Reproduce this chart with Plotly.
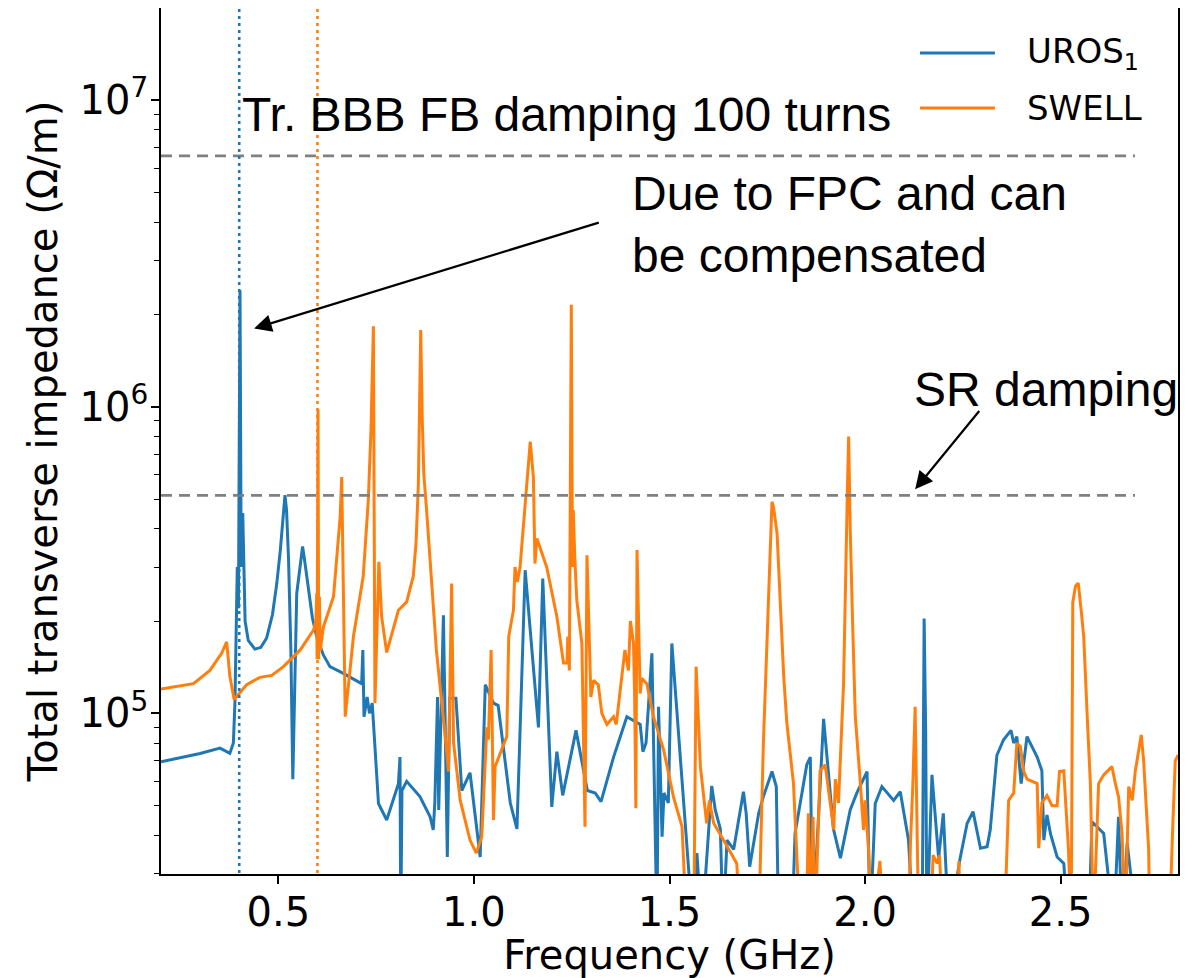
import math
import plotly.graph_objects as go

# ---------------- data ----------------
uros_freq = [0.200, 0.300, 0.351, 0.376, 0.385, 0.389, 0.395, 0.398, 0.402, 0.405,
             0.409, 0.412, 0.415, 0.423, 0.440, 0.455, 0.470, 0.485, 0.496, 0.505,
             0.512, 0.517, 0.521, 0.526, 0.532, 0.537, 0.547, 0.562, 0.568, 0.577,
             0.587, 0.598, 0.615, 0.632, 0.666, 0.713, 0.716, 0.719,
             0.727, 0.733, 0.740, 0.756, 0.777, 0.807, 0.811, 0.813, 0.816, 0.828,
             0.862, 0.888, 0.896, 0.900, 0.907, 0.910, 0.922, 0.932, 0.938, 0.954,
             0.969, 0.990, 1.016, 1.029, 1.050, 1.062, 1.093, 1.110, 1.131, 1.165,
             1.176, 1.199, 1.212, 1.227, 1.261, 1.290, 1.310, 1.325, 1.357, 1.391,
             1.425, 1.432, 1.440, 1.455, 1.468, 1.472, 1.481, 1.486, 1.497, 1.506,
             1.532, 1.560, 1.570, 1.583, 1.608, 1.617, 1.630, 1.637, 1.647, 1.664,
             1.689, 1.696, 1.705, 1.728, 1.740, 1.762, 1.773, 1.779, 1.813, 1.821,
             1.851, 1.860, 1.866, 1.894, 1.919, 1.937, 1.962, 1.979, 2.005, 2.013,
             2.026, 2.043, 2.073, 2.090, 2.111, 2.124, 2.146, 2.151, 2.155, 2.158,
             2.171, 2.188, 2.200, 2.214, 2.243, 2.261, 2.276, 2.295, 2.312, 2.320,
             2.337, 2.354, 2.373, 2.380, 2.388, 2.399, 2.414, 2.440, 2.452, 2.457,
             2.465, 2.474, 2.491, 2.508, 2.520, 2.572, 2.580, 2.610, 2.636, 2.648,
             2.657, 2.670, 2.695, 2.800]
uros_imp = [6.95e4, 7.4e4, 7.7e4, 7.4e4, 8.0e4, 1.08e5, 3.0e5, 2.2e5, 2.4e6, 3.0e5,
            4.5e5, 2.65e5, 2.0e5, 1.73e5, 1.62e5, 1.64e5, 1.76e5, 2.1e5, 2.65e5, 3.4e5,
            4.5e5, 5.15e5, 4.6e5, 3.2e5, 1.61e5, 6.1e4, 2.46e5, 3.5e5, 3.1e5, 2.5e5,
            2.05e5, 1.78e5, 1.55e5, 1.42e5, 1.35e5, 1.25e5, 1.61e5, 9.75e4,
            1.13e5, 1.0e5, 1.08e5, 5.08e4, 4.49e4, 5.9e4, 7.2e4, 2.0e4, 5.6e4, 6.0e4,
            5.35e4, 4.6e4, 4.17e4, 5.1e4, 1.13e5, 4.84e4, 2.09e5, 3.4e4, 1.12e5, 1.12e5,
            5.6e4, 6.4e4, 3.4e4, 1.24e5, 1.08e5, 1.06e5, 5.1e4, 4.2e4, 2.93e5, 9.0e4,
            2.75e5, 4.95e4, 7.5e4, 5.4e4, 8.8e4, 5.6e4, 5.5e4, 5.15e4, 7.2e4, 9.75e4,
            9.2e4, 7.5e4, 8.0e4, 1.57e5, 2.0e4, 1.05e5, 3.96e4, 5.5e4, 5.1e4, 1.69e5,
            5.9e4, 2.0e4, 3.5e4, 2.0e4, 5.8e4, 4.84e4, 4.2e4, 2.0e4, 3.86e4, 3.6e4,
            5.55e4, 4.72e4, 3.16e4, 4.72e4, 5.35e4, 6.46e4, 5.77e4, 2.0e4, 2.0e4, 4.06e4,
            6.8e4, 7.2e4, 2.0e4, 9.6e4, 4.2e4, 3.37e4, 4.84e4, 5.5e4, 6.46e4, 2.0e4,
            5.08e4, 5.77e4, 5.2e4, 5.55e4, 3.86e4, 2.0e4, 2.0e4, 2.04e5, 8.6e4, 2.0e4,
            6.3e4, 3.37e4, 4.72e4, 2.0e4, 3.37e4, 4.38e4, 4.78e4, 3.63e4, 3.67e4, 4.17e4,
            7.3e4, 8.2e4, 8.8e4, 8.0e4, 8.4e4, 5.9e4, 8.4e4, 7.2e4, 6.5e4, 3.86e4,
            4.66e4, 4.05e4, 3.4e4, 3.24e4, 2.0e4, 2.0e4, 4.43e4, 4.06e4, 2.0e4, 4.6e4,
            2.0e4, 3.77e4, 2.0e4, 2.0e4]

swell_freq = [0.200, 0.283, 0.325, 0.355, 0.368, 0.376, 0.387, 0.419, 0.453, 0.483,
              0.513, 0.556, 0.590, 0.596, 0.598, 0.599, 0.6015, 0.603, 0.605, 0.607,
              0.615, 0.641, 0.658, 0.662, 0.671, 0.692, 0.717, 0.730, 0.737, 0.743, 0.747,
              0.757, 0.764, 0.777, 0.807, 0.828, 0.845, 0.852, 0.858, 0.861, 0.864, 0.868,
              0.872, 0.879, 0.904,
              0.930, 0.935, 0.943, 0.948, 0.965, 0.990, 1.006, 1.020, 1.033, 1.037,
              1.044, 1.050, 1.054, 1.084, 1.089, 1.101, 1.105, 1.111, 1.118, 1.135,
              1.144, 1.152, 1.156, 1.161, 1.186, 1.212, 1.229, 1.238, 1.240, 1.244,
              1.246, 1.249, 1.252, 1.254, 1.258, 1.263, 1.276, 1.284, 1.289, 1.297,
              1.299, 1.306, 1.318, 1.327, 1.340, 1.357, 1.364, 1.374, 1.386, 1.395,
              1.400, 1.408, 1.411, 1.414, 1.417, 1.425, 1.429, 1.442, 1.459, 1.485,
              1.510, 1.532, 1.544, 1.562, 1.568, 1.579, 1.595, 1.602, 1.613, 1.638,
              1.659, 1.672, 1.681, 1.728, 1.740, 1.752, 1.757, 1.762, 1.766, 1.775, 1.792,
              1.800, 1.817,
              1.834, 1.850, 1.855, 1.860, 1.867, 1.872, 1.885, 1.898, 1.911, 1.920,
              1.924, 1.932, 1.945, 1.950, 1.955, 1.958, 1.962, 1.968, 1.975, 1.988,
              1.996, 2.000, 2.009, 2.018,
              2.038, 2.047, 2.111, 2.116, 2.122, 2.128, 2.137, 2.167, 2.174, 2.184,
              2.190, 2.200, 2.235, 2.240, 2.243, 2.356, 2.367, 2.380, 2.388, 2.397,
              2.405, 2.414, 2.427, 2.440, 2.444, 2.452, 2.465, 2.478, 2.491, 2.497,
              2.508, 2.520, 2.527, 2.531, 2.538, 2.545, 2.552, 2.559, 2.568, 2.576,
              2.584, 2.597,
              2.610, 2.631, 2.640, 2.648, 2.657, 2.665, 2.674, 2.683, 2.691, 2.706,
              2.712, 2.725, 2.728, 2.778, 2.786, 2.793, 2.800]
swell_imp = [1.2e5, 1.25e5, 1.38e5, 1.57e5, 1.71e5, 1.32e5, 1.11e5, 1.24e5, 1.31e5, 1.33e5,
             1.42e5, 1.61e5, 1.87e5, 2.0e5, 2.46e5, 1.5e5, 9.8e5, 1.5e5, 2.4e5, 1.6e5,
             1.91e5, 2.4e5, 4.37e5, 5.9e5, 9.75e4, 1.78e5, 2.8e5, 4.96e5, 8.5e5, 1.83e6, 1.08e5,
             3.12e5, 2.07e5, 1.58e5, 2.17e5, 2.31e5, 2.8e5, 3.6e5, 5.6e5, 9.0e5, 1.78e6, 9.0e5,
             6.0e5, 4.6e5, 1.61e5,
             7.6e4, 6.46e4, 2.65e5, 8.0e4, 5.2e4, 3.86e4, 3.5e4, 3.96e4, 9.0e4, 8.2e4,
             1.61e5, 4.49e4, 6.7e4, 8.4e4, 1.78e5, 2.17e5, 3.0e5, 2.68e5, 3.0e5, 5.5e5,
             7.7e5, 5.9e5, 3.08e5, 3.72e5, 3.0e5, 2.07e5, 1.46e5, 1.46e5, 1.78e5, 1.38e5,
             3.4e5, 2.15e6, 3.0e5, 4.6e5, 3.2e5, 2.34e5, 1.69e5, 4.27e4, 3.28e5, 1.38e5,
             1.13e5, 1.28e5, 1.24e5, 1.0e5, 9.2e4, 9.75e4, 9.2e4, 1.19e5, 1.61e5, 1.38e5,
             2.0e5, 1.69e5, 1.1e5, 4.9e4, 3.41e5, 1.16e5, 1.3e5, 1.25e5, 9.75e4, 7.6e4,
             5.35e4, 4.27e4, 2.0e4, 2.0e4, 1.42e5, 6.7e4, 4.38e4, 5.2e4, 4.38e4, 3.86e4,
             3.45e4, 3.24e4, 2.0e4, 2.0e4, 8.0e4, 2.1e5, 3.5e5, 4.9e5, 4.7e5, 3.86e5, 1.32e5,
             9.3e4, 5.9e4,
             2.0e4, 2.0e4, 4.72e4, 2.0e4, 4.6e4, 2.0e4, 6.5e4, 6.8e4, 5.2e4, 4.17e4,
             6.1e4, 5.1e4, 1.25e5, 3.0e5, 5.5e5, 8.0e5, 4.0e5, 2.0e5, 9.75e4, 5.9e4,
             4.17e4, 5.2e4, 3.58e4, 2.0e4,
             3.3e4, 2.0e4, 2.0e4, 3.77e4, 5.8e4, 1.05e5, 2.0e4, 2.0e4, 3.45e4, 3.24e4,
             3.45e4, 2.0e4, 2.0e4, 3.3e4, 2.0e4, 2.0e4, 5.2e4, 5.5e4, 8.0e4, 7.8e4,
             6.5e4, 6.1e4, 6.0e4, 5.9e4, 3.63e4, 5.1e4, 5.4e4, 5.0e4, 5.0e4, 6.46e4,
             6.5e4, 3.6e4, 2.0e4, 2.3e5, 2.6e5, 2.66e5, 2.2e5, 1.78e5, 9.75e4, 5.9e4,
             2.0e4, 5.9e4,
             6.3e4, 6.7e4, 5.9e4, 5.35e4, 4.06e4, 2.0e4, 5.77e4, 5.2e4, 6.5e4, 8.5e4,
             7.05e4, 3.6e4, 2.0e4, 2.0e4, 4.06e4, 7.0e4, 7.3e4]

# threshold lines (Ohm/m) and their frequency span (GHz)
fb_damping_level = 6.58e6
sr_damping_level = 5.14e5
threshold_span = [0.2, 2.69]

# marked frequencies (GHz)
uros_mark_freq = 0.4
swell_mark_freq = 0.6

x_ticks = [0.5, 1.0, 1.5, 2.0, 2.5]
x_tick_text = ["0.5", "1.0", "1.5", "2.0", "2.5"]
y_ticks = [1e5, 1e6, 1e7]
y_tick_text = ["10<sup>5</sup>", "10<sup>6</sup>", "10<sup>7</sup>"]
y_minor = [m * 10 ** e for e in range(4, 8) for m in range(2, 10)]

BLUE = "#1f77b4"
ORANGE = "#ff7f0e"
GREY = "#808080"
TICK_FONT = "DejaVu Sans"
NOTE_FONT = "Liberation Sans, Arial"

fig = go.Figure()
fig.add_trace(go.Scatter(x=uros_freq, y=uros_imp, mode="lines", name="UROS<sub>1</sub>",
                         line=dict(color=BLUE, width=3), showlegend=False))
fig.add_trace(go.Scatter(x=swell_freq, y=swell_imp, mode="lines", name="SWELL",
                         line=dict(color=ORANGE, width=3), showlegend=False))
for lvl in (fb_damping_level, sr_damping_level):
    fig.add_trace(go.Scatter(x=threshold_span, y=[lvl, lvl], mode="lines",
                             line=dict(color=GREY, width=2.6, dash="11px,7px"),
                             showlegend=False, hoverinfo="skip"))
for fx, col in ((uros_mark_freq, BLUE), (swell_mark_freq, ORANGE)):
    fig.add_trace(go.Scatter(x=[fx, fx], y=[1e4, 1e8], mode="lines",
                             line=dict(color=col, width=2.6, dash="3px,4px"),
                             showlegend=False, hoverinfo="skip"))

# ---- manual legend (matplotlib style, no frame) ----
legend_items = [("UROS<sub>1</sub>", BLUE, 0.948), ("SWELL", ORANGE, 0.8845)]
for label, col, yy in legend_items:
    fig.add_shape(type="line", xref="paper", yref="paper", x0=0.7463, x1=0.820,
                  y0=yy, y1=yy, line=dict(color=col, width=3))
    fig.add_annotation(xref="paper", yref="paper", x=0.8496, y=yy, text=label,
                       showarrow=False, xanchor="left", yanchor="middle",
                       font=dict(family=TICK_FONT, size=34, color="black"))

# ---- text notes ----
fig.add_annotation(x=0.403, y=6.954, xref="x", yref="y", text="Tr. BBB FB damping 100 turns",
                   showarrow=False, xanchor="left", yanchor="middle",
                   font=dict(family=NOTE_FONT, size=48, color="black"))
fig.add_annotation(x=1.400, y=6.596, xref="x", yref="y",
                   text="Due to FPC and can<br>be compensated",
                   showarrow=False, xanchor="left", yanchor="middle", align="left",
                   font=dict(family=NOTE_FONT, size=48, color="black"))
fig.add_annotation(x=2.120, y=6.055, xref="x", yref="y", text="SR damping",
                   showarrow=False, xanchor="left", yanchor="middle",
                   font=dict(family=NOTE_FONT, size=48, color="black"))
# arrows (head at x/y, tail at ax/ay; log axis uses log10 values)
fig.add_annotation(x=0.438, y=math.log10(1.8e6), ax=1.323, ay=math.log10(4.0e6),
                   xref="x", yref="y", axref="x", ayref="y", text="",
                   showarrow=True, arrowhead=2, arrowsize=1.6, arrowwidth=2.2,
                   arrowcolor="black", standoff=0)
fig.add_annotation(x=2.128, y=math.log10(5.38e5), ax=2.295, ay=math.log10(9.8e5),
                   xref="x", yref="y", axref="x", ayref="y", text="",
                   showarrow=True, arrowhead=2, arrowsize=1.6, arrowwidth=2.2,
                   arrowcolor="black", standoff=0)

axis_common = dict(showline=True, linecolor="black", linewidth=1.5, mirror=True,
                   ticks="outside", ticklen=8, tickwidth=1.5, tickcolor="black",
                   showgrid=False, zeroline=False, automargin=False,
                   tickfont=dict(family=TICK_FONT, size=40, color="black"))
fig.update_xaxes(range=[0.2, 2.8], tickmode="array", tickvals=x_ticks, ticktext=x_tick_text,
                 ticklabelstandoff=-6,
                 title=dict(text="Frequency (GHz)", font=dict(family=TICK_FONT, size=40, color="black"),
                            standoff=4),
                 **axis_common)
fig.update_yaxes(type="log", range=[4.476, 7.3005], tickmode="array", tickvals=y_ticks,
                 ticktext=y_tick_text, ticklabelstandoff=-5,
                 minor=dict(tickmode="array", tickvals=y_minor, ticks="outside", ticklen=5,
                            tickwidth=1.2, tickcolor="black", showgrid=False),
                 title=dict(text="Total transverse impedance (Ω/m)",
                            font=dict(family=TICK_FONT, size=40, color="black"), standoff=10),
                 **axis_common)
# the page body keeps the browser's default 8px margin, so the figure is offset by 8px
fig.update_layout(width=1191, height=970, plot_bgcolor="white", paper_bgcolor="white",
                  margin=dict(l=153, r=21, t=0, b=104), showlegend=False)
fig.write_html("out.html")
